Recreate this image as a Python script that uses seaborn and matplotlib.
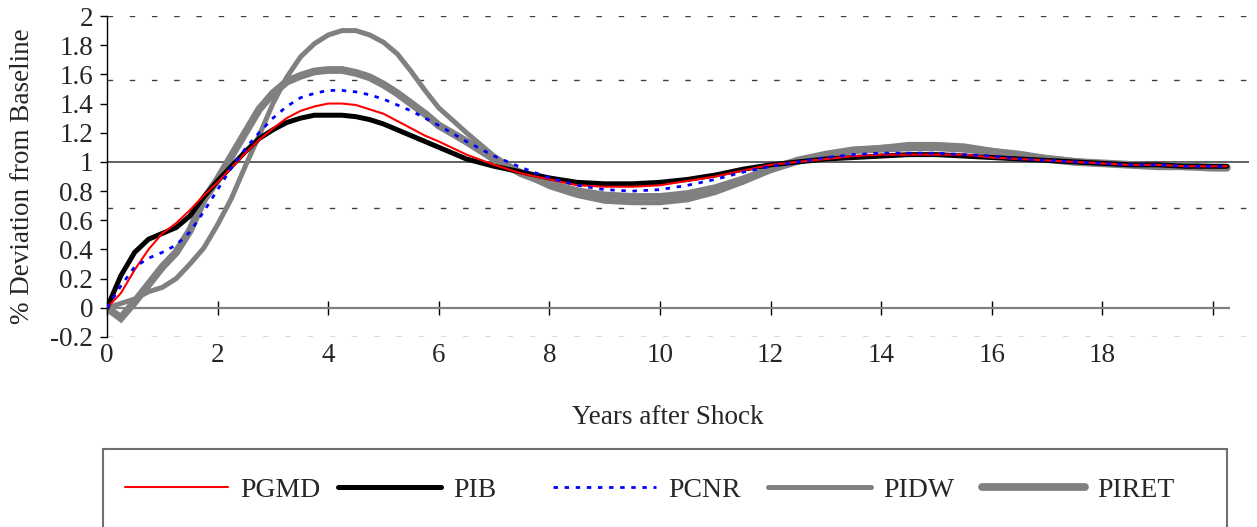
import numpy as np
import pandas as pd
import matplotlib
matplotlib.use("Agg")
import matplotlib.pyplot as plt
import matplotlib.patches as mpatches
from matplotlib.lines import Line2D
from matplotlib.ticker import FuncFormatter
import seaborn as sns

# ---------------- data ----------------
years = [0, 0.25, 0.5, 0.75, 1.0, 1.25, 1.5, 1.75, 2.0, 2.25, 2.5, 2.75, 3.0,
         3.25, 3.5, 3.75, 4.0, 4.25, 4.5, 4.75, 5.0, 5.25, 5.5, 5.75, 6.0,
         6.5, 7.0, 7.5, 8.0, 8.5, 9.0, 9.5, 10.0, 10.5, 11.0, 11.5, 12.0,
         12.5, 13.0, 13.5, 14.0, 14.5, 15.0, 15.5, 16.0, 16.5, 17.0, 17.5,
         18.0, 18.5, 19.0, 19.5, 20.0, 20.25]

pgmd = [0, 0.10, 0.26, 0.40, 0.51, 0.58, 0.67, 0.77, 0.86, 0.96, 1.06, 1.15, 1.23,
        1.30, 1.35, 1.38, 1.40, 1.40, 1.39, 1.36, 1.33, 1.28, 1.23, 1.18, 1.14,
        1.05, 0.98, 0.92, 0.88, 0.84, 0.83, 0.83, 0.84, 0.87, 0.90, 0.94, 0.98,
        1.00, 1.02, 1.04, 1.05, 1.05, 1.05, 1.05, 1.03, 1.02, 1.01, 1.00,
        0.99, 0.98, 0.98, 0.97, 0.97, 0.97]

pib = [0, 0.22, 0.38, 0.47, 0.51, 0.55, 0.63, 0.76, 0.87, 0.97, 1.07, 1.16, 1.22,
       1.27, 1.30, 1.32, 1.32, 1.32, 1.31, 1.29, 1.26, 1.22, 1.18, 1.14, 1.10,
       1.02, 0.97, 0.93, 0.89, 0.86, 0.85, 0.85, 0.86, 0.88, 0.91, 0.95, 0.98,
       1.00, 1.02, 1.03, 1.04, 1.05, 1.05, 1.04, 1.03, 1.02, 1.01, 1.00,
       0.99, 0.98, 0.98, 0.97, 0.97, 0.97]

pcnr = [0, 0.15, 0.28, 0.34, 0.38, 0.43, 0.52, 0.66, 0.81, 0.96, 1.09, 1.20, 1.30,
        1.38, 1.44, 1.47, 1.49, 1.49, 1.48, 1.46, 1.43, 1.39, 1.35, 1.30, 1.25,
        1.14, 1.04, 0.96, 0.89, 0.84, 0.81, 0.80, 0.81, 0.84, 0.88, 0.93, 0.97,
        1.00, 1.03, 1.05, 1.06, 1.06, 1.06, 1.05, 1.04, 1.02, 1.01, 1.00,
        0.99, 0.98, 0.98, 0.97, 0.97, 0.97]

pidw = [0, 0.03, 0.06, 0.11, 0.14, 0.20, 0.30, 0.41, 0.57, 0.75, 0.97, 1.18, 1.40,
        1.58, 1.72, 1.81, 1.87, 1.90, 1.90, 1.87, 1.82, 1.74, 1.62, 1.49, 1.37,
        1.20, 1.04, 0.92, 0.83, 0.77, 0.73, 0.72, 0.72, 0.74, 0.79, 0.86, 0.94,
        1.00, 1.05, 1.08, 1.10, 1.12, 1.12, 1.11, 1.08, 1.05, 1.03, 1.01,
        0.99, 0.98, 0.97, 0.96, 0.96, 0.96]

piret = [0, -0.07, 0.04, 0.16, 0.28, 0.38, 0.53, 0.74, 0.88, 1.04, 1.20, 1.36, 1.47,
         1.55, 1.59, 1.62, 1.63, 1.63, 1.61, 1.58, 1.53, 1.47, 1.40, 1.33, 1.25,
         1.14, 1.02, 0.92, 0.85, 0.80, 0.77, 0.76, 0.76, 0.78, 0.82, 0.88, 0.95,
         1.01, 1.05, 1.08, 1.09, 1.10, 1.10, 1.09, 1.07, 1.05, 1.02, 1.00,
         0.99, 0.98, 0.97, 0.97, 0.96, 0.96]

series_names = ["PGMD", "PIB", "PCNR", "PIDW", "PIRET"]
series_values = [pgmd, pib, pcnr, pidw, piret]

x_tick_values = [0, 2, 4, 6, 8, 10, 12, 14, 16, 18]
axis_tick_values = [0, 2, 4, 6, 8, 10, 12, 14, 16, 18, 20]
y_tick_values = [-0.2, 0, 0.2, 0.4, 0.6, 0.8, 1.0, 1.2, 1.4, 1.6, 1.8, 2.0]
grid_levels = [2.0, 1.56, 0.685, -0.2]

# ---------------- style ----------------
sns.set_theme(style="white")
plt.rcParams["font.family"] = ["Liberation Serif", "DejaVu Serif"]
plt.rcParams["axes.unicode_minus"] = False

FS = 19.5

styles = {
    "PGMD": dict(color="#ff0000", lw=1.5, ls="-"),
    "PIB": dict(color="#000000", lw=3.6, ls="-"),
    "PCNR": dict(color="#0000ff", lw=2.0, ls=(0, (1.6, 2.4))),
    "PIDW": dict(color="#808080", lw=3.6, ls="-"),
    "PIRET": dict(color="#808080", lw=5.6, ls="-"),
}

W, H = 1257, 527
fig = plt.figure(figsize=(W / 100, H / 100), dpi=100)
left_px, right_px, top_px, bot_px = 107, 1249, 16, 337
ax = fig.add_axes([left_px / W, 1 - bot_px / H, (right_px - left_px) / W, (bot_px - top_px) / H])

df = pd.DataFrame({"Years": years})
for name, vals in zip(series_names, series_values):
    df[name] = vals
long = df.melt(id_vars="Years", var_name="series", value_name="value")

# reference / grid lines
for g in grid_levels:
    ax.axhline(g, color="#404040", lw=1.0, ls=(0, (4, 12)), zorder=1)
ax.axhline(1.0, color="#606060", lw=1.4, zorder=1)
ax.hlines(0, 0, 20.3, color="#808080", lw=1.6, zorder=1)

draw_order = ["PIRET", "PIDW", "PCNR", "PGMD", "PIB"]
z = {"PIRET": 2, "PIDW": 3, "PIB": 4, "PGMD": 5, "PCNR": 6}
for name in draw_order:
    st = styles[name]
    sub = long[long["series"] == name]
    sns.lineplot(data=sub, x="Years", y="value", ax=ax, color=st["color"],
                 linewidth=st["lw"], linestyle=st["ls"], legend=False,
                 zorder=z[name], solid_joinstyle="miter")

ax.set_xlim(0, 20.65)
ax.set_ylim(-0.2, 2.0)

for s in ["top", "right", "bottom"]:
    ax.spines[s].set_visible(False)
ax.spines["left"].set_color("black")
ax.spines["left"].set_linewidth(1.0)

ax.set_yticks(y_tick_values)
ax.yaxis.set_major_formatter(FuncFormatter(lambda v, p: f"{v:g}"))
ax.tick_params(axis="y", direction="out", length=5, width=1, color="black",
               labelsize=FS, pad=5, left=True)
ax.set_xticks(x_tick_values)
ax.set_xticklabels([str(v) for v in x_tick_values])
ax.tick_params(axis="x", length=0, labelsize=FS, pad=4)

sec = ax.secondary_xaxis(0.2 / 2.2)
sec.set_xticks(axis_tick_values)
sec.tick_params(direction="inout", length=10, width=1, color="black", labelbottom=False)
sec.spines["bottom"].set_visible(False)

ax.set_xlabel("Years after Shock", fontsize=FS)
ax.xaxis.set_label_coords((668 - left_px) / (right_px - left_px), -(418 - bot_px) / (bot_px - top_px))
ax.xaxis.label.set_verticalalignment("center")
ax.set_ylabel("% Deviation from Baseline", fontsize=FS, labelpad=11)
ax.grid(False)

fig.patches.append(mpatches.Rectangle((103 / W, -0.1), (1227 - 103) / W, (1 - 449 / H) + 0.1,
                                      transform=fig.transFigure, fill=False,
                                      edgecolor="#707070", lw=1.5))
line_starts = [125, 338, 553, 768, 982]
for name, xs in zip(series_names, line_starts):
    st = styles[name]
    h = Line2D([], [], color=st["color"], lw=st["lw"], ls=st["ls"])
    fig.legend([h], [name], loc="center left", bbox_to_anchor=(xs / W, 1 - 490 / H),
               frameon=False, fontsize=20, handlelength=103 / (20 * 100 / 72),
               handletextpad=0.45, borderpad=0, borderaxespad=0)

fig.savefig("out.png", dpi=100)
